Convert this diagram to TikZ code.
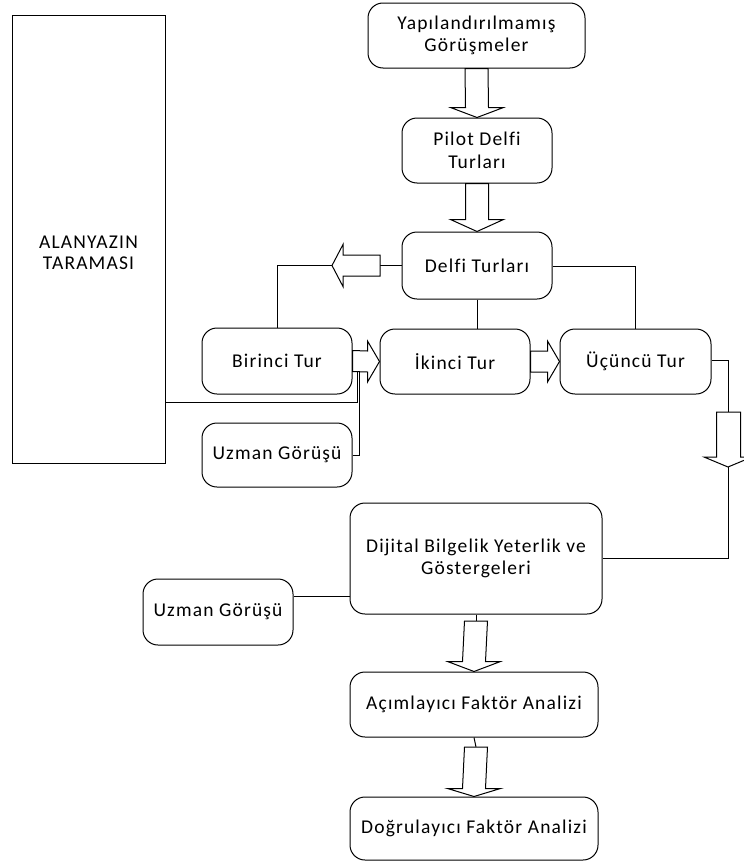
\documentclass[tikz,border=0pt]{standalone}
\usepackage{fontspec}
\setmainfont{Carlito}[LetterSpace=6,Ligatures=NoCommon]
\usetikzlibrary{calc}
\tikzset{
  box/.style={draw, line width=1pt, rounded corners=15pt, align=center, inner sep=2pt,
    font=\fontsize{19.5}{22.5}\selectfont},
  plainbox/.style={draw, line width=1pt, inner sep=0pt},
  conn/.style={line width=1pt},
  barrow/.style={line width=1pt, fill=white, line join=miter},
}
% down block arrow: #1 top centre, #2 tip, #3 head length
\newcommand{\dnarrow}[3]{%
  \draw[barrow] ($(#1)+(-11.5,0)$) -- ($(#2)+(-11.5,-#3)$) -- ($(#2)+(-26.5,-#3)$) -- (#2)
    -- ($(#2)+(26.5,-#3)$) -- ($(#2)+(11.5,-#3)$) -- ($(#1)+(11.5,0)$) -- cycle;}
% right block arrow: #1 shaft start centre, #2 tip, #3 head length
\newcommand{\rtarrow}[3]{%
  \draw[barrow] ($(#1)+(0,-10.5)$) -- ($(#2)+(-#3,-10.5)$) -- ($(#2)+(-#3,-20.5)$) -- (#2)
    -- ($(#2)+(-#3,20.5)$) -- ($(#2)+(-#3,10.5)$) -- ($(#1)+(0,10.5)$) -- cycle;}
\begin{document}
\begin{tikzpicture}[x=1pt,y=-1pt]
\useasboundingbox (0,0) rectangle (744,862);
% ALANYAZIN rectangle
\node[plainbox, minimum width=153pt, minimum height=448pt] (alan) at (88.5,239) {};
\node[font=\fontsize{19.5}{21}\selectfont, align=center] (alantxt) at (88.5,253) {ALANYAZIN\\TARAMASI};
% boxes
\node[box, minimum width=217pt, minimum height=65pt] (yap) at (476.5,35.5) {Yapılandırılmamış\\Görüşmeler};
\node[box, minimum width=150pt, minimum height=65pt] (pilot) at (477,150.5) {Pilot Delfi\\Turları};
\node[box, minimum width=150pt, minimum height=67pt] (delfi) at (477,265.5) {Delfi Turları};
\node[box, minimum width=150pt, minimum height=66pt] (bir) at (277,361) {Birinci Tur};
\node[box, minimum width=150pt, minimum height=65pt] (iki) at (455,361.5) {İkinci Tur};
\node[box, minimum width=151pt, minimum height=65pt] (uc) at (635.5,361.5) {Üçüncü Tur};
\node[box, minimum width=150pt, minimum height=64pt] (uz1) at (277,455) {Uzman Görüşü};
\node[box, minimum width=252pt, minimum height=111pt] (dij) at (476,558.5) {Dijital Bilgelik Yeterlik ve\\Göstergeleri};
\node[box, minimum width=150pt, minimum height=66pt] (uz2) at (218,612) {Uzman Görüşü};
\node[box, minimum width=248pt, minimum height=65pt] (acim) at (474,704.5) {Açımlayıcı Faktör Analizi};
\node[box, minimum width=248pt, minimum height=63pt] (dog) at (474,828.5) {Doğrulayıcı Faktör Analizi};
% coordinates
\coordinate (lfr) at (380,265.5);
\coordinate (ltip) at (332,265.5);
\coordinate (rtop) at (728,412);
\coordinate (rtip) at (728,467);
\coordinate (d1) at (476,621);
\coordinate (d2) at (476,747);
% down arrows
\dnarrow{yap.south}{pilot.north}{10}
\dnarrow{pilot.south}{delfi.north}{12}
\draw[conn] (dij.south) -- (d1);
\dnarrow{d1}{acim.north}{10}
\draw[conn] (acim.south) -- (d2);
\dnarrow{d2}{dog.north}{8}
% right arrows
\rtarrow{bir.east}{iki.west}{12}
\rtarrow{iki.east}{uc.west}{12}
% left arrow from Delfi
\draw[conn] (delfi.west) -- (lfr);
\draw[barrow] ($(lfr)+(0,-10.5)$) -- ($(ltip)+(11,-10.5)$) -- ($(ltip)+(11,-21)$) -- (ltip)
  -- ($(ltip)+(11,21)$) -- ($(ltip)+(11,10.5)$) -- ($(lfr)+(0,10.5)$) -- cycle;
\draw[conn] (ltip) -| (bir.north);
% Delfi to others
\draw[conn] (delfi.south) -- (delfi.south |- iki.north);
\draw[conn] (delfi.east |- 0,266) -| (uc.north);
% ALANYAZIN and Uzman 1 into Birinci arrow
\draw[conn] (alan.east |- 0,402) -| (357,372);
\draw[conn] (uz1.east) -| (359,372);
% Üçüncü down right arrow
\draw[conn] (uc.east |- 0,360) -| (rtop);
\draw[barrow] ($(rtop)+(-11.5,0)$) -- ($(rtip)+(-11.5,-10)$) -- ($(rtip)+(-24,-10)$) -- (rtip)
  -- ($(rtip)+(24,-10)$) -- ($(rtip)+(12.5,-10)$) -- ($(rtop)+(12.5,0)$) -- cycle;
\draw[conn] (rtip) |- (dij.east);
% Uzman 2 to Dijital
\draw[conn] (uz2.east |- 0,596) -- (dij.west |- 0,596);
\end{tikzpicture}
\end{document}
